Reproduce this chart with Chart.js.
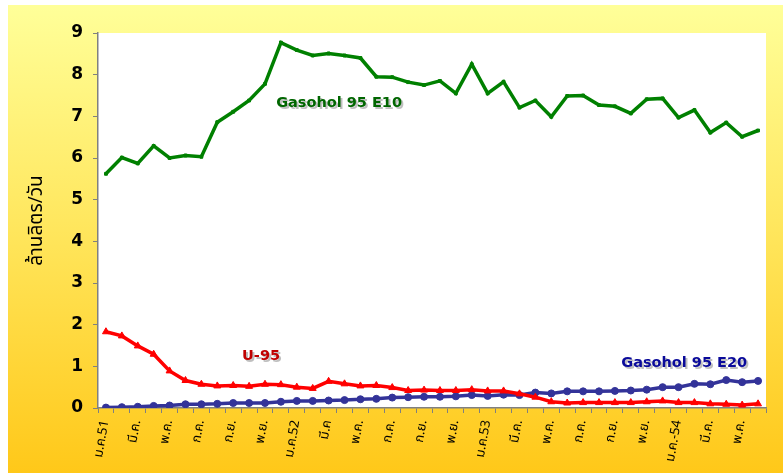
<!DOCTYPE html>
<html>
<head>
<meta charset="utf-8">
<script src="https://cdn.jsdelivr.net/npm/chart.js@4"></script>
<style>
  html, body { margin: 0; padding: 0; background: #ffffff; }
  #wrap { width: 783px; height: 473px; position: relative; }
</style>
</head>
<body>
<div id="wrap"><canvas id="c" width="783" height="473"></canvas></div>
<script>
// Months Jan 2008 (ม.ค.51) .. Jun 2011
const categories = [
  'ม.ค.51','ก.พ.','มี.ค.','เม.ย.','พ.ค.','มิ.ย.','ก.ค.','ส.ค.','ก.ย.','ต.ค.','พ.ย.','ธ.ค.',
  'ม.ค.52','ก.พ.','มี.ค','เม.ย.','พ.ค.','มิ.ย.','ก.ค.','ส.ค.','ก.ย.','ต.ค.','พ.ย.','ธ.ค.',
  'ม.ค.53','ก.พ.','มี.ค.','เม.ย.','พ.ค.','มิ.ย.','ก.ค.','ส.ค.','ก.ย.','ต.ค.','พ.ย.','ธ.ค.',
  'ม.ค.-54','ก.พ.','มี.ค.','เม.ย.','พ.ค.','มิ.ย.'
];
// Tick labels shown (every second month)
const tickLabels = [
  'ม.ค.51','','มี.ค.','','พ.ค.','','ก.ค.','','ก.ย.','','พ.ย.','',
  'ม.ค.52','','มี.ค','','พ.ค.','','ก.ค.','','ก.ย.','','พ.ย.','',
  'ม.ค.53','','มี.ค.','','พ.ค.','','ก.ค.','','ก.ย.','','พ.ย.','',
  'ม.ค.-54','','มี.ค.','','พ.ค.',''
];
const e10 = [5.62,6.01,5.87,6.29,6.00,6.06,6.03,6.86,7.11,7.38,7.78,8.77,
             8.59,8.46,8.51,8.46,8.40,7.95,7.94,7.82,7.75,7.85,7.55,8.25,
             7.55,7.83,7.21,7.38,6.99,7.49,7.50,7.27,7.24,7.07,7.41,7.43,
             6.97,7.15,6.61,6.85,6.51,6.66];
const u95 = [1.83,1.73,1.49,1.29,0.89,0.66,0.57,0.53,0.54,0.52,0.57,0.56,
             0.50,0.47,0.64,0.58,0.53,0.54,0.49,0.42,0.43,0.42,0.42,0.44,
             0.41,0.41,0.34,0.26,0.15,0.12,0.13,0.13,0.13,0.13,0.15,0.17,
             0.13,0.13,0.10,0.09,0.07,0.10];
const e20 = [0.01,0.02,0.03,0.05,0.06,0.09,0.09,0.10,0.12,0.12,0.12,0.15,
             0.17,0.17,0.18,0.19,0.21,0.22,0.25,0.26,0.27,0.27,0.28,0.31,
             0.29,0.32,0.31,0.37,0.35,0.40,0.40,0.40,0.41,0.42,0.44,0.50,
             0.50,0.58,0.57,0.67,0.62,0.65];
const yTitle = 'ล้านลิตร/วัน';
const annotations = [
  { text: 'Gasohol 95 E10', x: 10.7, y: 7.32, color: '#006600' },
  { text: 'U-95', x: 8.56, y: 1.25, color: '#C00000' },
  { text: 'Gasohol 95 E20', x: 32.4, y: 1.08, color: '#0A0A9A' }
];

const bgPlugin = {
  id: 'bg',
  beforeDraw(chart) {
    const ctx = chart.ctx;
    const g = ctx.createLinearGradient(0, 5, 0, 473);
    g.addColorStop(0, '#FFFF99');
    g.addColorStop(0.5, '#FFE55A');
    g.addColorStop(1, '#FFC819');
    ctx.save();
    ctx.fillStyle = '#ffffff';
    ctx.fillRect(0, 0, chart.width, chart.height);
    ctx.fillStyle = g;
    ctx.fillRect(8, 5, chart.width - 8, chart.height - 5);
    const a = chart.chartArea;
    ctx.fillStyle = '#ffffff';
    ctx.fillRect(a.left, a.top, a.right - a.left, a.bottom - a.top);
    ctx.restore();
  }
};

const annoPlugin = {
  id: 'anno',
  afterDatasetsDraw(chart) {
    const ctx = chart.ctx;
    const xs = chart.scales.x, ys = chart.scales.y;
    ctx.save();
    ctx.font = 'bold 14.5px "DejaVu Sans", Verdana, sans-serif';
    ctx.textAlign = 'left';
    ctx.textBaseline = 'middle';
    annotations.forEach(a => {
      const px = xs.getPixelForValue(a.x);
      const py = ys.getPixelForValue(a.y);
      ctx.fillStyle = 'rgba(0,0,0,0.25)';
      ctx.fillText(a.text, px + 2, py + 2);
      ctx.fillStyle = a.color;
      ctx.fillText(a.text, px, py);
    });
    ctx.restore();
  }
};

new Chart(document.getElementById('c'), {
  type: 'line',
  data: {
    labels: categories,
    datasets: [
      { label: 'U-95', data: u95, borderColor: '#FF0000', backgroundColor: '#FF0000',
        borderWidth: 3.5, pointStyle: 'triangle', pointRadius: 4, pointBorderWidth: 1, tension: 0 },
      { label: 'Gasohol 95 E20', data: e20, borderColor: '#333399', backgroundColor: '#333399',
        borderWidth: 3.5, pointStyle: 'circle', pointRadius: 3.5, pointBorderWidth: 1, tension: 0 },
      { label: 'Gasohol 95 E10', data: e10, borderColor: '#008000', backgroundColor: '#008000',
        borderWidth: 3.5, pointStyle: 'rect', pointRadius: 2, pointBorderWidth: 1, tension: 0 }
    ]
  },
  options: {
    responsive: false,
    animation: false,
    layout: { padding: { left: 8, top: 33, right: 17, bottom: 0 } },
    plugins: { legend: { display: false }, tooltip: { enabled: false } },
    scales: {
      x: {
        offset: true,
        grid: { offset: true, drawOnChartArea: false, drawTicks: true, tickLength: 5, color: '#808080', lineWidth: 1 },
        border: { display: true, color: '#808080', width: 1.5 },
        ticks: {
          autoSkip: false, maxRotation: 80, minRotation: 80, padding: 6,
          color: '#000000',
          font: { family: 'Tahoma, "Noto Sans Thai", "Noto Sans", sans-serif', size: 13 },
          callback: (v, i) => tickLabels[i]
        },
        afterFit(s) { s.height = 65; }
      },
      y: {
        min: 0, max: 9,
        grid: { drawOnChartArea: false, drawTicks: true, tickLength: 5, color: '#808080', lineWidth: 1 },
        border: { display: true, color: '#808080', width: 1.5 },
        ticks: {
          stepSize: 1, padding: 10, color: '#000000',
          font: { family: '"DejaVu Sans", Verdana, sans-serif', size: 17, weight: 'bold' }
        },
        title: {
          display: true, text: yTitle, color: '#000000', padding: { top: 19, bottom: 0 },
          font: { family: 'Tahoma, "Noto Sans Thai", "Noto Sans", sans-serif', size: 19 }
        },
        afterFit(s) { s.width = 90; }
      }
    }
  },
  plugins: [bgPlugin, annoPlugin]
});
</script>
</body>
</html>
